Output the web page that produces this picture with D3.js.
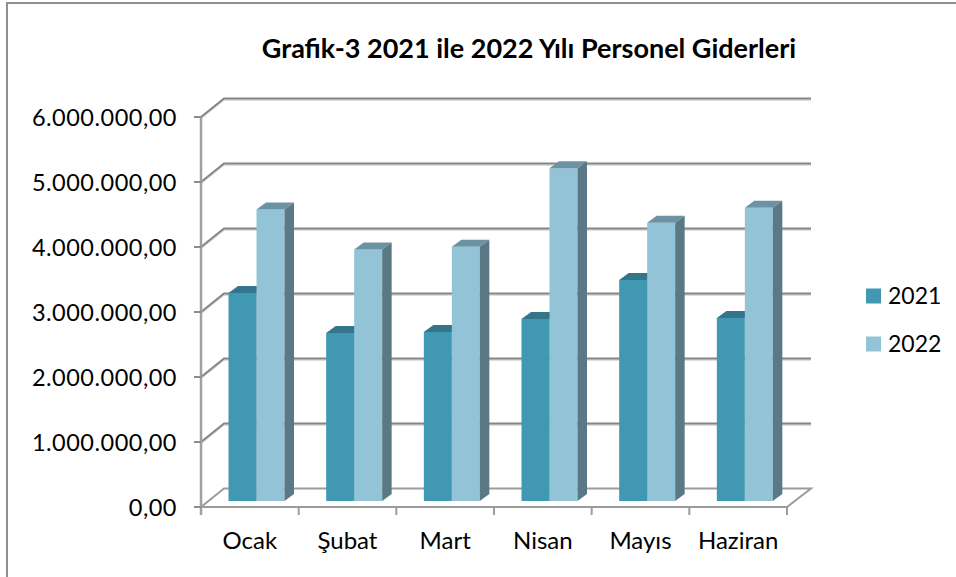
<!DOCTYPE html>
<html>
<head>
<meta charset="utf-8">
<script src="https://cdnjs.cloudflare.com/ajax/libs/d3/7.8.5/d3.min.js"></script>
<style>
  html, body { margin: 0; padding: 0; background: #fff; }
  svg { display: block; }
  text { font-family: Lato, "Open Sans", sans-serif; fill: #000; }
</style>
</head>
<body>
<svg width="956" height="577"></svg>
<script>
// Data
var months = ["Ocak", "Şubat", "Mart", "Nisan", "Mayıs", "Haziran"];
var years = ["2021", "2022"];
var values2021 = [3200000, 2585000, 2600000, 2800000, 3400000, 2815000];
var values2022 = [4485000, 3870000, 3910000, 5120000, 4280000, 4510000];
var yTicks = [0, 1000000, 2000000, 3000000, 4000000, 5000000, 6000000];

var svg = d3.select("svg");

// Colours: front, top, side
var colors = {
  "2021": { front: "#4198b3", top: "#33758a", side: "#33758a" },
  "2022": { front: "#93c3d6", top: "#6c93a4", side: "#5b7985" }
};

// Scales
var x = d3.scaleBand().domain(months).range([201, 787]);
var y = d3.scaleLinear().domain([0, 6000000]).range([507, 117]);

var wallDx = 23, wallDy = -18.5; // front axis -> back wall
var barShiftX = 27.5, barShiftY = -6; // bars sit between front and back
var barW = 28, depthX = 9.5, depthY = -7;

var tr = d3.format(",.2f");
function fmt(v) {
  // turkish number format, 6.000.000,00
  return tr(v).replace(/,/g, "#").replace(".", ",").replace(/#/g, ".");
}

// Chart frame, only left and top are inside the picture
svg.append("path")
  .attr("d", "M7,577V3H956")
  .attr("fill", "none")
  .attr("stroke", "#8f8f8f")
  .attr("stroke-width", 2);

// Gridlines
var gridLine = function (v) {
  var yy = y(v);
  return "M201," + yy + "L" + (201 + wallDx) + "," + (yy + wallDy) + "H811";
};
var grid = svg.append("g").attr("fill", "none");
grid.selectAll(".shadow")
  .data(yTicks.slice(1))
  .enter()
  .append("path")
  .attr("class", "shadow")
  .attr("d", gridLine)
  .attr("transform", "translate(0,1.5)")
  .attr("stroke", "#d4d4d4")
  .attr("stroke-width", 1.5);
grid.selectAll(".line")
  .data(yTicks.slice(1))
  .enter()
  .append("path")
  .attr("class", "line")
  .attr("d", gridLine)
  .attr("stroke", "#868686")
  .attr("stroke-width", 2);

// Floor
var floorPts = [
  [201, y(0)],
  [787, y(0)],
  [787 + 24, y(0) + wallDy],
  [201 + wallDx, y(0) + wallDy]
];
svg.append("path")
  .attr("d", d3.line()(floorPts) + "Z")
  .attr("fill", "#fff")
  .attr("stroke", "#9c9c9c")
  .attr("stroke-width", 2);

// Value axis
var yAxisG = svg.append("g");
yAxisG.append("line")
  .attr("x1", 201).attr("x2", 201)
  .attr("y1", y(6000000)).attr("y2", y(0) + 8)
  .attr("stroke", "#a0a0a0").attr("stroke-width", 2.5);
yAxisG.selectAll("line.tick")
  .data(yTicks)
  .enter()
  .append("line")
  .attr("class", "tick")
  .attr("x1", 194).attr("x2", 201)
  .attr("y1", function (d) { return y(d); })
  .attr("y2", function (d) { return y(d); })
  .attr("stroke", "#8c8c8c").attr("stroke-width", 2);
yAxisG.selectAll("text")
  .data(yTicks)
  .enter()
  .append("text")
  .attr("x", 177)
  .attr("y", function (d) { return y(d) + 1; })
  .attr("dy", "0.35em")
  .attr("text-anchor", "end")
  .style("font-size", "23.5px")
  .style("letter-spacing", "0.5px")
  .text(fmt);

// Category axis
var xEdges = months.map(function (m) { return x(m) + x.bandwidth(); });
svg.selectAll("line.xtick")
  .data(xEdges)
  .enter()
  .append("line")
  .attr("class", "xtick")
  .attr("x1", function (d) { return d; })
  .attr("x2", function (d) { return d; })
  .attr("y1", y(0)).attr("y2", y(0) + 8)
  .attr("stroke", "#9c9c9c").attr("stroke-width", 2);
svg.selectAll("text.cat")
  .data(months)
  .enter()
  .append("text")
  .attr("class", "cat")
  .attr("x", function (d) { return x(d) + x.bandwidth() / 2; })
  .attr("y", 549)
  .attr("text-anchor", "middle")
  .style("font-size", "24px")
  .text(function (d) { return d; });

// Bars
function drawBar(g, month, year, value) {
  var x0 = x(month) + barShiftX + (year === "2022" ? barW : 0);
  var top = y(value) + barShiftY;
  var base = y(0) + barShiftY;
  var c = colors[year];
  g.append("rect")
    .attr("x", x0).attr("y", top)
    .attr("width", barW).attr("height", base - top)
    .attr("fill", c.front);
  g.append("path")
    .attr("d", d3.line()([
      [x0, top],
      [x0 + depthX, top + depthY],
      [x0 + barW + depthX, top + depthY],
      [x0 + barW, top]
    ]) + "Z")
    .attr("fill", c.top);
  g.append("path")
    .attr("d", d3.line()([
      [x0 + barW, top],
      [x0 + barW + depthX, top + depthY],
      [x0 + barW + depthX, base + depthY],
      [x0 + barW, base]
    ]) + "Z")
    .attr("fill", c.side);
}
months.forEach(function (m, i) {
  var g = svg.append("g");
  drawBar(g, m, "2021", values2021[i]);
  drawBar(g, m, "2022", values2022[i]);
});

// Title
svg.append("text")
  .attr("x", 529)
  .attr("y", 58)
  .attr("text-anchor", "middle")
  .style("font-size", "27px")
  .style("font-weight", "bold")
  .text("Grafik-3 2021 ile 2022 Yılı Personel Giderleri");

// Legend
var legendY = d3.scalePoint().domain(years).range([296, 344]);
var legend = svg.append("g");
legend.selectAll("rect")
  .data(years)
  .enter()
  .append("rect")
  .attr("x", 866)
  .attr("y", function (d) { return legendY(d) - 7.5; })
  .attr("width", 15)
  .attr("height", 15)
  .attr("fill", function (d) { return colors[d].front; });
legend.selectAll("text")
  .data(years)
  .enter()
  .append("text")
  .attr("x", 888)
  .attr("y", function (d) { return legendY(d); })
  .attr("dy", "0.35em")
  .style("font-size", "23px")
  .text(function (d) { return d; });
</script>
</body>
</html>
